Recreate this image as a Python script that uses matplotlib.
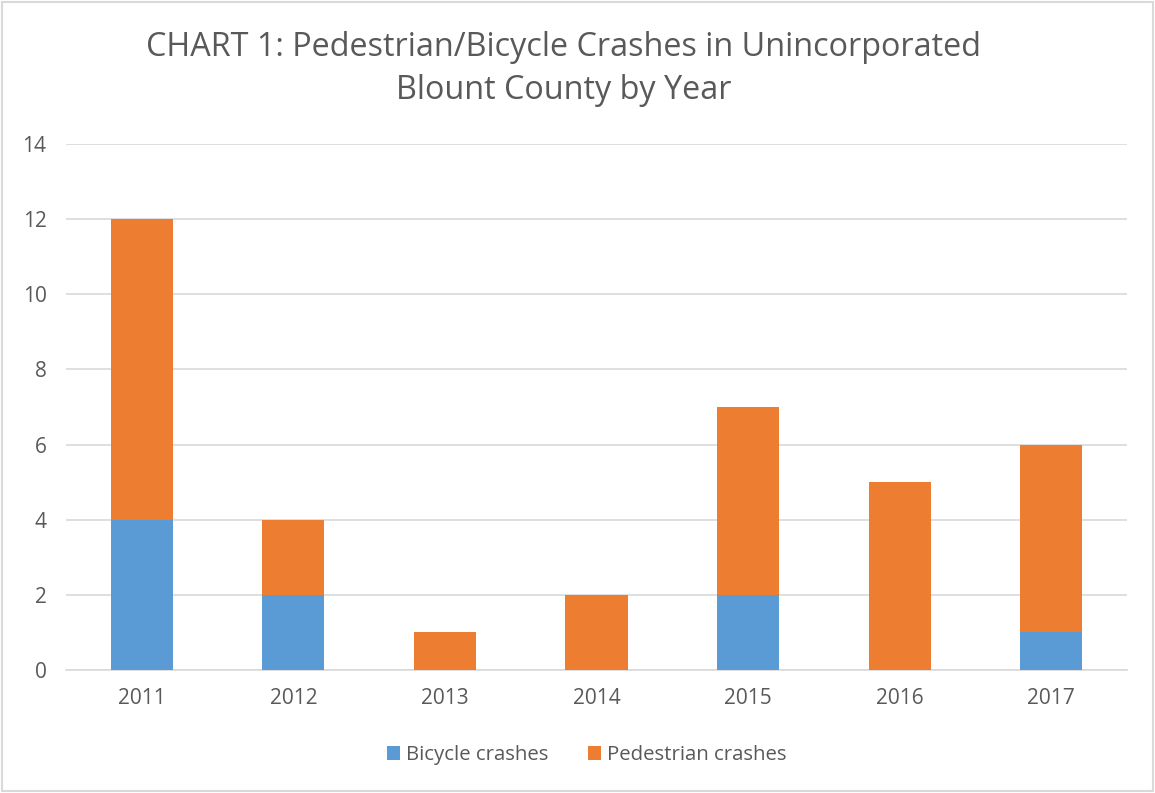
import numpy as np
import matplotlib.pyplot as plt
from matplotlib.patches import Rectangle

years = ['2011', '2012', '2013', '2014', '2015', '2016', '2017']
bicycle = [4, 2, 0, 0, 2, 0, 1]
pedestrian = [8, 2, 1, 2, 5, 5, 5]

blue = '#5B9BD5'
orange = '#ED7D31'
text_col = '#595959'

plt.rcParams['font.family'] = ['Open Sans', 'DejaVu Sans']

fig = plt.figure(figsize=(11.55, 7.93), dpi=100)
ax = fig.add_axes([0.0571, 0.1551, 0.9187, 0.6633])

x = np.arange(len(years))
ax.bar(x, bicycle, width=0.41, color=blue, label='Bicycle crashes', zorder=3)
ax.bar(x, pedestrian, width=0.41, bottom=bicycle, color=orange,
       label='Pedestrian crashes', zorder=3)

ax.set_xlim(-0.5, len(years) - 0.5)
ax.set_ylim(0, 14)
ax.set_yticks(range(0, 15, 2))
ax.set_xticks(x)
ax.set_xticklabels(years)
ax.yaxis.grid(True, color='#D9D9D9', linewidth=1.2, zorder=0)
for s in ['top', 'right', 'left']:
    ax.spines[s].set_visible(False)
ax.spines['bottom'].set_color('#D9D9D9')
ax.spines['bottom'].set_linewidth(1.2)
ax.tick_params(axis='both', length=0, labelsize=15, labelcolor=text_col)
ax.tick_params(axis='y', pad=14)
ax.tick_params(axis='x', pad=13)

fig.text(0.488, 0.913, 'CHART 1: Pedestrian/Bicycle Crashes in Unincorporated\nBlount County by Year',
         ha='center', va='center', fontsize=23.3, color=text_col, linespacing=1.38)

fig.legend(loc='center', bbox_to_anchor=(0.508, 0.048), ncol=2, frameon=False,
           fontsize=14.7, labelcolor=text_col, handlelength=0.65, handleheight=0.65,
           handletextpad=0.3, columnspacing=1.9)

fig.patches.append(Rectangle((0.002, 0.003), 0.996, 0.994, transform=fig.transFigure,
                             fill=False, edgecolor='#D9D9D9', linewidth=1.5))

fig.savefig('out.png', dpi=100)
